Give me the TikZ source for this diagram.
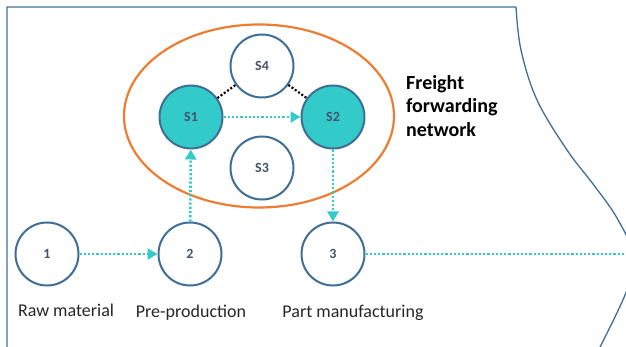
\documentclass[tikz,border=0pt]{standalone}
\usepackage{fontspec}
\setmainfont{Carlito}
\usetikzlibrary{arrows.meta,shapes.geometric}
\definecolor{cblue}{HTML}{3F6E96}
\definecolor{cteal}{HTML}{33CACA}
\definecolor{corange}{HTML}{ED7D31}
\definecolor{ctext}{HTML}{44546A}
\definecolor{lbl}{HTML}{262626}
\tikzset{
  stage/.style={circle,draw=cblue,line width=2pt,minimum size=63pt,inner sep=0pt,fill=white,
    font=\fontsize{14}{16}\selectfont\bfseries,text=ctext},
  hub/.style={stage,fill=cteal},
  flow/.style={draw=cteal,line width=2.6pt,dash pattern=on 2.2pt off 2pt},
  flowarrow/.style={flow,-{Triangle[length=10pt,width=11pt,fill=cteal]}},
  link/.style={draw=black,line width=2.2pt,dash pattern=on 2pt off 2pt},
  caption/.style={font=\fontsize{18}{21}\selectfont,text=lbl,inner sep=0pt}
}
\begin{document}
\begin{tikzpicture}[x=1pt,y=-1pt]
\useasboundingbox (0,0) rectangle (626,347);
% frame
\draw[cblue,line width=1.3pt] (7,347) -- (7,7) -- (516,7)
  plot[smooth,tension=0.6] coordinates {(516,7) (521,50) (537,100) (567,150) (593,184) (617,218) (633,255) (627,290) (600,347)};
% freight network ellipse
\node[draw=corange,line width=2.2pt,ellipse,minimum width=270pt,minimum height=183pt,inner sep=0pt] (net) at (259,116) {};
% nodes
\node[stage] (s4) at (262,66) {S4};
\node[hub] (s1) at (191,117) {S1};
\node[hub] (s2) at (333,117) {S2};
\node[stage] (s3) at (262,168) {S3};
\node[stage] (n1) at (47,254) {1};
\node[stage] (n2) at (190,254) {2};
\node[stage] (n3) at (333,254) {3};
\coordinate (out) at (626,254);
% labels
\node[caption] (l1) at (66,310) {Raw material};
\node[caption] (l2) at (191,313) {Pre-production};
\node[caption] (l3) at (353,313) {Part manufacturing};
\node[font=\fontsize{20}{23.5}\selectfont\bfseries,align=left,anchor=north west,inner sep=0pt,text=black] (ff) at (406,75) {Freight\\forwarding\\network};
% connectors
\draw[link] (s1) -- (s4);
\draw[link] (s4) -- (s2);
\draw[flowarrow] (s1) -- (s2);
\draw[flowarrow] (n1) -- (n2);
\draw[flowarrow] (n2) -- (s1);
\draw[flowarrow] (s2) -- (n3);
\draw[flow] (n3) -- (out);
\end{tikzpicture}
\end{document}
